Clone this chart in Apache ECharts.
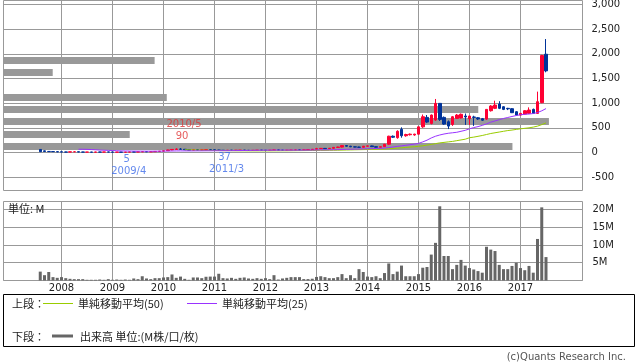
<!DOCTYPE html>
<html><head><meta charset="utf-8">
<script src="https://cdn.jsdelivr.net/npm/echarts@6/dist/echarts.min.js"></script>
<style>html,body{margin:0;padding:0;background:#fff}#c{width:638px;height:362px}</style>
</head><body><div id="c"></div>
<script>
// ---------- data ----------
const months = [
 '2007/08','2007/09','2007/10','2007/11','2007/12',
 '2008/01','2008/02','2008/03','2008/04','2008/05','2008/06','2008/07','2008/08','2008/09','2008/10','2008/11','2008/12',
 '2009/01','2009/02','2009/03','2009/04','2009/05','2009/06','2009/07','2009/08','2009/09','2009/10','2009/11','2009/12',
 '2010/01','2010/02','2010/03','2010/04','2010/05','2010/06','2010/07','2010/08','2010/09','2010/10','2010/11','2010/12',
 '2011/01','2011/02','2011/03','2011/04','2011/05','2011/06','2011/07','2011/08','2011/09','2011/10','2011/11','2011/12',
 '2012/01','2012/02','2012/03','2012/04','2012/05','2012/06','2012/07','2012/08','2012/09','2012/10','2012/11','2012/12',
 '2013/01','2013/02','2013/03','2013/04','2013/05','2013/06','2013/07','2013/08','2013/09','2013/10','2013/11','2013/12',
 '2014/01','2014/02','2014/03','2014/04','2014/05','2014/06','2014/07','2014/08','2014/09','2014/10','2014/11','2014/12',
 '2015/01','2015/02','2015/03','2015/04','2015/05','2015/06','2015/07','2015/08','2015/09','2015/10','2015/11','2015/12',
 '2016/01','2016/02','2016/03','2016/04','2016/05','2016/06','2016/07','2016/08','2016/09','2016/10','2016/11','2016/12',
 '2017/01','2017/02','2017/03','2017/04','2017/05','2017/06','2017/07'
];
const open = [
 62,34,22,20,17,
 14,10,9,14,15,10,8,9,7,10,8,11,
 9,7,9,7,8,12,11,13,18,14,16,22,
 27,36,52,62,70,66,55,48,54,50,52,58,
 54,48,45,42,46,44,45,47,44,42,44,47,
 45,43,46,52,47,44,46,48,52,49,53,58,
 66,78,84,76,86,104,110,140,128,115,110,106,
 128,134,118,106,118,168,330,300,470,340,360,355,
 372,520,712,590,658,996,712,624,569,691,700,740,
 684,720,705,685,678,847,895,983,928,895,888,827,
 759,779,793,874,793,1010,1992
];
const high = [
 66,40,30,24,22,
 20,14,16,18,17,12,10,10,12,13,12,13,
 11,10,11,9,14,16,15,20,22,18,24,30,
 40,58,70,86,90,70,60,58,60,56,62,66,
 60,54,50,50,52,48,50,52,48,46,50,52,
 50,48,60,56,52,49,52,56,58,55,62,70,
 95,92,90,92,110,118,150,145,135,122,118,132,
 140,140,124,124,175,340,345,450,510,380,385,380,
 530,770,760,770,1085,1000,730,650,740,780,790,790,
 745,745,720,700,880,960,1050,1040,940,905,900,840,
 800,860,915,890,1234,1980,2300
];
const low = [
 12,16,14,14,10,
 6,7,8,10,8,6,6,6,6,7,6,7,
 6,6,6,5,7,9,9,11,12,11,14,18,
 24,32,45,55,60,50,45,44,46,44,48,50,
 46,42,37,40,42,40,42,43,40,39,41,43,
 41,40,44,44,42,41,43,45,46,45,50,55,
 62,68,72,72,80,95,100,120,110,105,100,100,
 118,112,100,100,112,150,295,280,300,320,345,340,
 360,500,600,570,640,640,560,475,540,680,690,560,
 560,540,660,640,660,830,880,880,860,860,800,750,
 750,770,780,780,780,1000,1626
];
const close = [
 16,20,18,17,12,
 10,9,14,15,10,8,9,7,10,8,11,9,
 7,9,7,8,12,11,13,18,14,16,22,27,
 36,52,62,70,66,55,48,54,50,52,58,54,
 48,45,42,46,44,45,47,44,42,44,47,45,
 43,46,52,47,44,46,48,52,49,53,58,66,
 78,84,76,86,104,110,140,128,115,110,106,128,
 134,118,106,118,168,330,310,430,340,365,372,372,
 520,725,617,759,996,671,576,535,725,759,775,720,
 739,712,680,655,874,942,962,895,874,885,807,759,
 793,847,861,793,1030,1966,1654
];
// volume, millions
const volume = [
 2.5,1.5,2.4,0.95,0.75,
 0.95,0.66,0.47,0.38,0.38,0.38,0.2,0.2,0.2,0.28,0.2,0.38,
 0.2,0.28,0.2,0.28,0.2,0.57,0.38,1.2,0.57,0.38,0.66,0.66,
 0.85,0.95,1.7,0.75,1.1,0.47,0.2,0.85,0.85,0.66,1.05,1.1,
 1.1,1.9,0.66,0.57,0.75,0.47,0.75,0.85,0.57,0.47,0.66,0.47,
 0.66,0.38,1.5,0.28,0.57,0.75,0.95,0.95,0.95,0.4,0.4,0.5,
 1.0,1.2,0.95,0.66,0.66,0.95,1.8,0.66,1.5,0.66,3.2,2.4,
 1.1,0.95,1.2,0.66,2.1,4.8,1.8,2.5,4.2,1.2,1.2,1.2,
 1.8,3.6,3.8,7.3,10.6,20.9,6.9,6.9,3.2,4.4,5.8,4.2,
 3.5,3.1,2.65,2.2,9.5,8.7,8.3,4.4,3.2,3.2,4.1,5.0,
 3.5,2.9,4.1,2.2,11.7,20.6,6.6
];
// simple moving averages
const ma25 = [
 null,null,null,null,null,
 null,null,null,null,67,66,64,60,55,49,46,43,
 40,36,33,31,30,29,28,28,27,27,27,28,
 29,30,31,32,33,33,33,33,34,34,35,35,
 36,36,37,37,38,39,40,41,42,43,44,45,
 46,46,47,47,47,47,47,47,47,47,48,49,
 51,52,53,54,56,58,61,64,66,68,70,73,
 76,79,82,85,90,100,111,124,135,146,158,170,
 185,215,250,295,330,355,375,390,400,410,430,450,
 480,505,525,550,580,615,640,665,690,710,730,750,
 765,775,780,790,810,845,890
];
const ma50 = [
 null,null,null,null,null,
 null,null,null,null,null,null,null,null,null,null,null,null,
 null,null,null,null,null,null,null,null,null,null,null,null,
 null,null,null,null,null,55,53,51,49,47,45,43,
 41,40,38,37,36,35,34,34,33,33,33,33,
 33,33,34,34,35,35,36,37,38,39,40,41,
 42,43,44,45,46,47,49,51,53,55,57,59,
 61,63,65,67,70,76,82,89,96,103,110,117,
 125,137,150,163,180,195,205,215,225,240,255,270,
 300,312,328,345,365,385,400,415,430,445,455,468,
 480,490,500,515,535,565,600
];
// price-band volume profile
const profilePrice  = [1865, 1622, 1115, 872, 628, 365, 122];
const profileVolume = [26.1, 8.5, 28.2, 82.0, 94.2, 21.8, 87.9];
// annotations
const annMonth = ['2009/04', '2010/05', '2011/03'];
const annText  = ['2009/4', '2010/5', '2011/3'];
const annPrice = [5, 90, 37];
const annKind  = ['low', 'high', 'low'];
// axis tick labels
const yearLabels = ['2008','2009','2010','2011','2012','2013','2014','2015','2016','2017'];
const priceTicks = [-500, 0, 500, 1000, 1500, 2000, 2500, 3000];
const volTicks = [0, 5, 10, 15, 20];
const volLabels = [5, 10, 15, 20];

// ---------- build ----------
function monthIndex(s){ const p = s.split('/'); return (+p[0]-2008)*12 + (+p[1]-1); }
const xs = months.map(monthIndex);
const yearTicks = yearLabels.map(y => monthIndex(y + '/01'));
const XMIN = -58/4.25, XMAX = 521/4.25;

const candleData = xs.map((x,i)=>[x, open[i], close[i], low[i], high[i]]);
const volData = xs.map((x,i)=>[x, volume[i]]);
const ma25Data = xs.map((x,i)=>[x, ma25[i]]);
const ma50Data = xs.map((x,i)=>[x, ma50[i]]);

const FONT = 'DejaVu Sans';
const JP = '"Noto Sans CJK JP", "Noto Sans", sans-serif';
const GRID = '#999';

const annData = annMonth.map((m,i)=>{
  const isHigh = annKind[i]==='high';
  const col = isHigh ? '#e03434' : '#3d6be8';
  return {
    value:[monthIndex(m), annPrice[i]],
    label:{
      show:true,
      position: isHigh ? 'top' : 'bottom',
      distance: isHigh ? 6 : 1,
      formatter: isHigh ? '{d|'+annText[i]+'}\n{v|'+annPrice[i]+'}' : '{v|'+annPrice[i]+'}\n{d|'+annText[i]+'}',
      rich:{
        d:{color:col, fontFamily:FONT, fontSize:10, lineHeight:12, padding:[0,0,0,7]},
        v:{color:col, fontFamily:FONT, fontSize:10, lineHeight:12, padding:[0,0,0,3]}
      }
    }
  };
});

const option = {
  animation:false,
  backgroundColor:'#fff',
  grid:[
    {left:3.5, top:0.5, width:579, height:190, show:true, borderColor:GRID, borderWidth:1, backgroundColor:'#fff', outerBoundsMode:'none'},
    {left:3.5, top:201.5, width:579, height:79, show:true, borderColor:GRID, borderWidth:1, backgroundColor:'#fff', outerBoundsMode:'none'}
  ],
  xAxis:[
    {type:'value', gridIndex:0, min:XMIN, max:XMAX, axisLine:{show:false},
     axisTick:{show:false, customValues:yearTicks}, axisLabel:{show:false, customValues:yearTicks},
     splitLine:{show:true, lineStyle:{color:GRID, width:1}}},
    {type:'value', gridIndex:0, min:0, max:100, show:false},
    {type:'value', gridIndex:1, min:XMIN, max:XMAX, axisLine:{show:false},
     axisTick:{show:false, customValues:yearTicks},
     axisLabel:{customValues:yearTicks, margin:3, fontFamily:FONT, fontSize:10, color:'#222',
       formatter:v=>yearLabels[yearTicks.indexOf(Math.round(v))] || ''},
     splitLine:{show:true, lineStyle:{color:GRID, width:1}}}
  ],
  yAxis:[
    {type:'value', gridIndex:0, position:'right', min:-770, max:3081, axisLine:{show:false},
     axisTick:{show:true, length:3, lineStyle:{color:GRID}, customValues:priceTicks},
     axisLabel:{customValues:priceTicks, margin:9, fontFamily:FONT, fontSize:10, color:'#222',
       formatter:v=>Number(v).toLocaleString('en-US')},
     splitLine:{show:true, lineStyle:{color:GRID, width:1}}},
    {type:'value', gridIndex:1, position:'right', min:0, max:22.25, axisLine:{show:false},
     axisTick:{show:true, length:3, lineStyle:{color:GRID}, customValues:volTicks},
     axisLabel:{customValues:volLabels, margin:10, fontFamily:FONT, fontSize:10, color:'#222',
       formatter:v=>v+'M'},
     splitLine:{show:true, lineStyle:{color:GRID, width:1}}}
  ],
  series:[
    {type:'custom', xAxisIndex:1, yAxisIndex:0, z:1, silent:true,
     data: profilePrice.map((p,i)=>[profileVolume[i], p]),
     renderItem:(params, api)=>{
       const a = api.coord([0, api.value(1)]);
       const b = api.coord([api.value(0), api.value(1)]);
       return {type:'rect', shape:{x:a[0]-0.5, y:Math.round(a[1]-3.5), width:b[0]-a[0]+0.5, height:7}, style:{fill:'#999999'}};
     }},
    {type:'candlestick', xAxisIndex:0, yAxisIndex:0, z:3, barWidth:3,
     encode:{x:0, y:[1,2,3,4]}, data:candleData,
     itemStyle:{color:'#ff0033', color0:'#003399', borderColor:'#ff0033', borderColor0:'#003399', borderWidth:1}},
    {type:'line', xAxisIndex:0, yAxisIndex:0, z:4, data:ma50Data, showSymbol:false, symbol:'none',
     lineStyle:{color:'#99cc00', width:1}},
    {type:'line', xAxisIndex:0, yAxisIndex:0, z:4, data:ma25Data, showSymbol:false, symbol:'none',
     lineStyle:{color:'#9933ff', width:1}},
    {type:'scatter', xAxisIndex:0, yAxisIndex:0, z:5, symbolSize:0, silent:true, data:annData},
    {type:'bar', xAxisIndex:2, yAxisIndex:1, barWidth:3, data:volData, itemStyle:{color:'#666666'}}
  ],
  graphic:{elements:[
    {type:'text', left:8, top:203, z:10, style:{text:'単位: M', font:'11px '+JP, fill:'#222'}},
    {type:'rect', z:10, shape:{x:3.5, y:294.5, width:631, height:52}, style:{fill:'none', stroke:'#000', lineWidth:1}},
    {type:'text', z:10, x:12, y:304, style:{text:'上段：', font:'11px '+JP, fill:'#222', verticalAlign:'middle'}},
    {type:'line', z:10, shape:{x1:43, y1:303.5, x2:73, y2:303.5}, style:{stroke:'#99cc00', lineWidth:1}},
    {type:'text', z:10, x:78, y:304, style:{text:'単純移動平均(50)', font:'11px '+JP, fill:'#222', verticalAlign:'middle'}},
    {type:'line', z:10, shape:{x1:187, y1:303.5, x2:217, y2:303.5}, style:{stroke:'#9933ff', lineWidth:1}},
    {type:'text', z:10, x:222, y:304, style:{text:'単純移動平均(25)', font:'11px '+JP, fill:'#222', verticalAlign:'middle'}},
    {type:'text', z:10, x:12, y:336.5, style:{text:'下段：', font:'11px '+JP, fill:'#222', verticalAlign:'middle'}},
    {type:'line', z:10, shape:{x1:52, y1:336, x2:73, y2:336}, style:{stroke:'#666666', lineWidth:3}},
    {type:'text', z:10, x:80, y:336.5, style:{text:'出来高 単位:(M株/口/枚)', font:'11px '+JP, fill:'#222', verticalAlign:'middle'}},
    {type:'text', z:10, x:626, y:357.5, style:{text:'(c)Quants Research Inc.', font:'10px '+FONT, fill:'#555', align:'right', verticalAlign:'middle'}}
  ]}
};
const chart = echarts.init(document.getElementById('c'), null, {renderer:'canvas'});
chart.setOption(option);
</script>
</body></html>
